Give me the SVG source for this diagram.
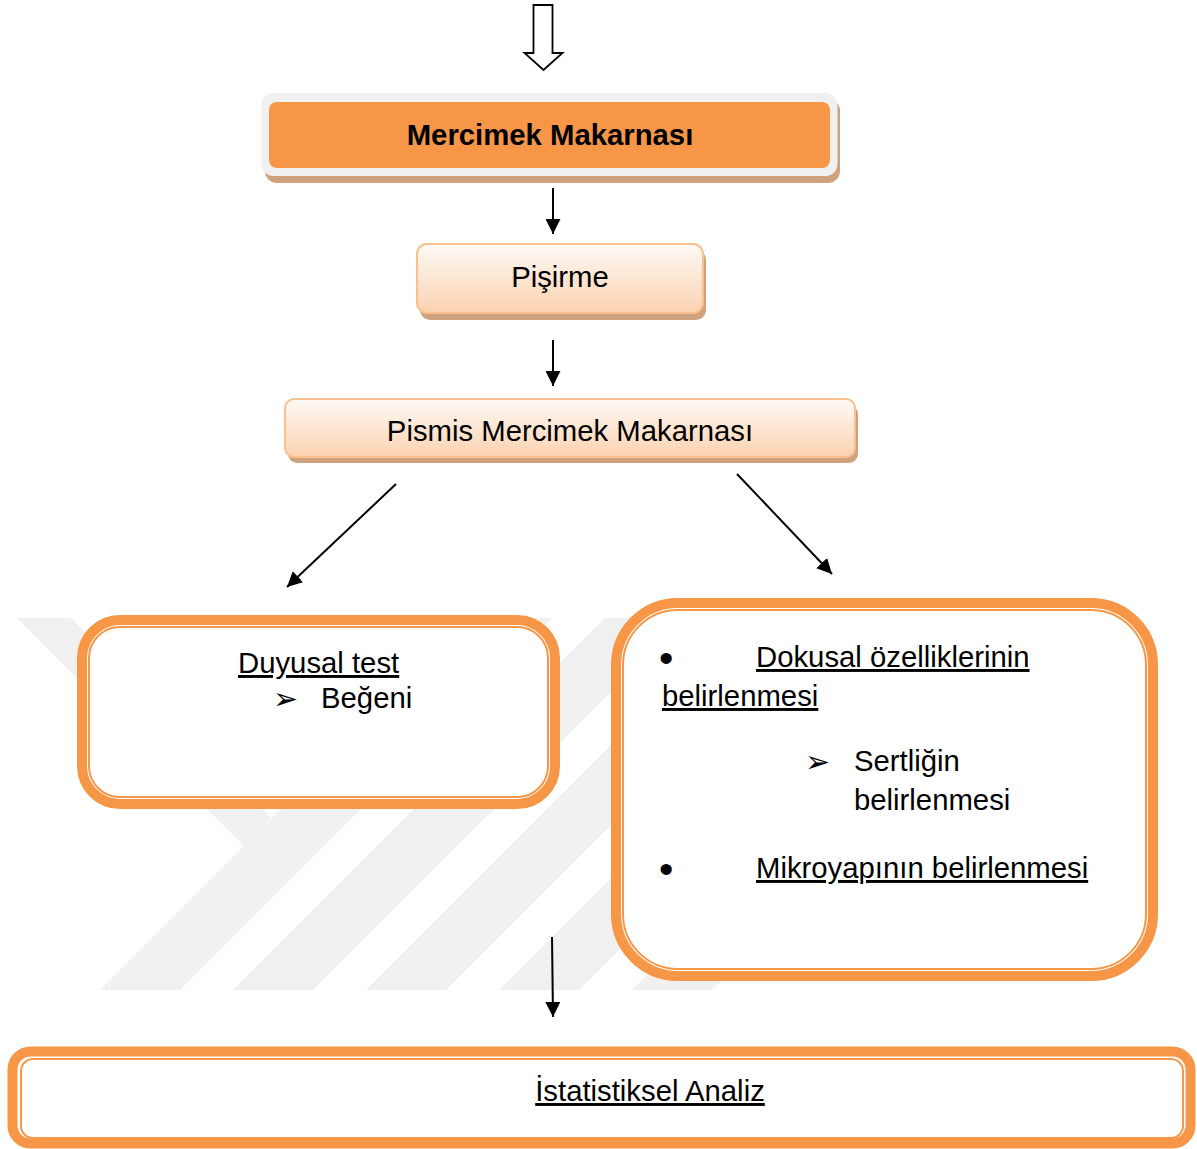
<svg xmlns="http://www.w3.org/2000/svg" width="1197" height="1149" viewBox="0 0 1197 1149">
  <defs>
    <linearGradient id="peach" x1="0" y1="0" x2="0" y2="1">
      <stop offset="0" stop-color="#fffaf6"/>
      <stop offset="1" stop-color="#fbd2b0"/>
    </linearGradient>
    <marker id="head" viewBox="0 0 15 15" refX="15" refY="7.5" markerWidth="15" markerHeight="15" markerUnits="userSpaceOnUse" orient="auto">
      <path d="M0,0 L15,7.5 L0,15 z" fill="#000"/>
    </marker>
    <style>
      .t { font-family: "Liberation Sans", Arial, sans-serif; font-size: 29.3px; fill: #000; }
      .b { font-weight: bold; }
      .u { text-decoration: underline; }
      .sym { font-family: "DejaVu Sans", sans-serif; font-size: 30px; fill: #000; }
      .dot { font-family: "Liberation Sans", Arial, sans-serif; font-size: 41px; fill: #000; }
      .wm { fill: #f0f0f0; }
      .shadow { fill: #cfa27e; }
      .soft { fill: url(#peach); stroke: #fac08f; stroke-width: 2; }
      .thick { fill: #fff; stroke: #f79646; stroke-width: 10; }
      .thin { fill: none; stroke: #f79646; stroke-width: 2; }
      .conn { stroke: #000; stroke-width: 2; fill: none; marker-end: url(#head); }
    </style>
  </defs>

  <rect width="1197" height="1149" fill="#fff"/>

  <!-- background watermark: striped Y emblem -->
  <g id="watermark">
    <polygon class="wm" points="17,618 71,618 271,818 244,846"/>
    <polygon class="wm" points="100,990 180,990 552,618 472,618"/>
    <polygon class="wm" points="233,990 313,990 685,618 605,618"/>
    <polygon class="wm" points="366,990 446,990 818,618 738,618"/>
    <polygon class="wm" points="499,990 579,990 951,618 871,618"/>
    <polygon class="wm" points="632,990 712,990 1084,618 1004,618"/>
  </g>

  <!-- block arrow entering the flow -->
  <g id="entry">
    <path d="M533.5,5 L552.5,5 L552.5,53 L562.5,53 L543.5,70 L524.5,53 L533.5,53 Z" fill="#fff" stroke="#000" stroke-width="1.8" stroke-linejoin="miter"/>
  </g>

  <g id="mercimek">
    <rect class="shadow" x="265" y="99" width="575" height="84" rx="12"/>
    <rect x="261.5" y="93" width="576" height="83" rx="12" fill="#f0f0f0"/>
    <rect x="269" y="102" width="561" height="66" rx="8" fill="#f79646"/>
    <text class="t b" x="550" y="145" text-anchor="middle">Mercimek Makarnası</text>
  </g>

  <g id="pisirme">
    <rect class="shadow" x="420" y="250" width="286" height="70" rx="10"/>
    <rect class="soft" x="417" y="244" width="286" height="69" rx="10"/>
    <text class="t" x="560" y="287" text-anchor="middle">Pişirme</text>
  </g>

  <g id="pismis">
    <rect class="shadow" x="288" y="405" width="570" height="58" rx="9"/>
    <rect class="soft" x="285" y="399" width="570" height="58" rx="9"/>
    <text class="t" x="570" y="441" text-anchor="middle">Pismis Mercimek Makarnası</text>
  </g>

  <g id="duyusal">
    <rect class="thick" x="82" y="620" width="473" height="184" rx="38"/>
    <rect class="thin" x="89" y="627" width="459" height="170" rx="31"/>
    <text class="t u" x="238" y="673">Duyusal test</text>
    <text class="sym" x="273" y="709">➢</text>
    <text class="t" x="321" y="708">Beğeni</text>
  </g>

  <g id="dokusal">
    <rect class="thick" x="616" y="603" width="537" height="373" rx="62"/>
    <rect class="thin" x="623" y="610" width="523" height="359" rx="55"/>
    <text class="dot" x="659" y="672">•</text>
    <text class="t u" x="756" y="667">Dokusal özelliklerinin</text>
    <text class="t u" x="662" y="706">belirlenmesi</text>
    <text class="sym" x="805" y="772">➢</text>
    <text class="t" x="854" y="771">Sertliğin</text>
    <text class="t" x="854" y="810">belirlenmesi</text>
    <text class="dot" x="659" y="883">•</text>
    <text class="t u" x="756" y="878">Mikroyapının belirlenmesi</text>
  </g>

  <g id="istatistik">
    <rect class="thick" x="12.5" y="1051.5" width="1178" height="92" rx="18"/>
    <rect class="thin" x="21" y="1059" width="1162" height="79" rx="12"/>
    <text class="t u" x="650" y="1101" text-anchor="middle">İstatistiksel Analiz</text>
  </g>

  <g id="connectors">
    <line class="conn" x1="553" y1="188" x2="553" y2="234"/>
    <line class="conn" x1="553" y1="340" x2="553" y2="386"/>
    <line class="conn" x1="396" y1="484" x2="287" y2="587"/>
    <line class="conn" x1="737" y1="474" x2="832" y2="574"/>
    <line class="conn" x1="552" y1="937" x2="553" y2="1017"/>
  </g>
</svg>
